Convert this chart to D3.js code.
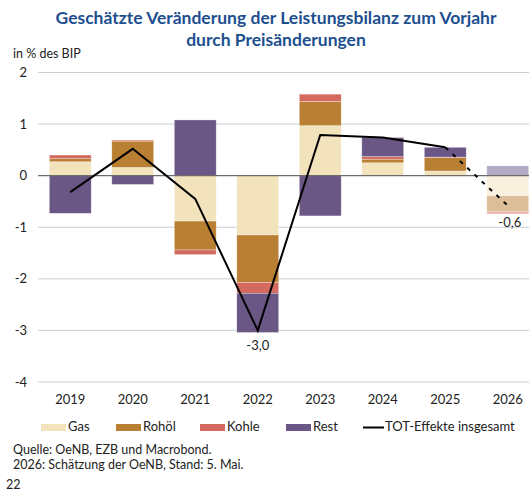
<!DOCTYPE html>
<html lang="de">
<head>
<meta charset="utf-8">
<title>Leistungsbilanz durch Preisänderungen</title>
<script src="https://cdn.jsdelivr.net/npm/d3@7"></script>
<style>
  body { margin: 0; background: #fff; font-family: Lato, "Open Sans", sans-serif; }
  .title { fill: #1d4f8f; font-weight: bold; font-size: 17.5px; }
  .grid line { stroke: #c5d0d9; stroke-width: 1; }
  .tick-label { font-size: 13px; fill: #222; }
  .note { font-size: 12.5px; fill: #222; }
</style>
</head>
<body>
<svg id="chart" width="529" height="491"></svg>
<script>

// data (% of GDP)
var years = ["2019", "2020", "2021", "2022", "2023", "2024", "2025", "2026"];
var keys = ["Gas", "Rohöl", "Kohle", "Rest"];
var gas   = [0.27, 0.16, -0.88, -1.15, 0.97, 0.25, 0.09, -0.39];
var rohoel = [0.06, 0.51, -0.56, -0.92, 0.47, 0.07, 0.26, -0.31];
var kohle = [0.07, 0.02, -0.09, -0.21, 0.14, 0.05, 0.01, -0.04];
var rest  = [-0.73, -0.17, 1.08, -0.76, -0.78, 0.37, 0.19, 0.19];
var totEffekt = [-0.32, 0.52, -0.45, -3.0, 0.79, 0.74, 0.55, -0.58];
var yTicks = [2, 1, 0, -1, -2, -3, -4];

var colors = {"Gas": "#f3e3bd", "Rohöl": "#b97f33", "Kohle": "#d4695f", "Rest": "#6a5786"};
// 2026 is an estimate, drawn in lighter shades
var colorsEst = {"Gas": "#f9f0dd", "Rohöl": "#dcbe98", "Kohle": "#eba8a3", "Rest": "#b4aac6"};

var rows = years.map(function(y, i) {
  return {year: y, "Gas": gas[i], "Rohöl": rohoel[i], "Kohle": kohle[i], "Rest": rest[i]};
});

var svg = d3.select("#chart");

var x = d3.scaleBand()
    .domain(years)
    .range([39, 539])
    .paddingInner(0.33)
    .paddingOuter(0.165);

var y = d3.scaleLinear()
    .domain([-4, 2])
    .range([382, 72.5]);

// title
svg.append("text").attr("class", "title")
    .attr("x", 276).attr("y", 24).attr("text-anchor", "middle")
    .text("Geschätzte Veränderung  der Leistungsbilanz zum Vorjahr");
svg.append("text").attr("class", "title")
    .attr("x", 276).attr("y", 46).attr("text-anchor", "middle")
    .text("durch Preisänderungen");

svg.append("text").attr("class", "note")
    .attr("x", 13).attr("y", 58)
    .text("in % des BIP");

// gridlines
svg.append("g").attr("class", "grid")
  .selectAll("line")
  .data(yTicks.filter(function(t) { return t !== 0; }))
  .enter().append("line")
    .attr("x1", 38).attr("x2", 529)
    .attr("y1", function(d) { return y(d); })
    .attr("y2", function(d) { return y(d); });

svg.append("g")
  .selectAll("text")
  .data(yTicks)
  .enter().append("text")
    .attr("class", "tick-label")
    .attr("x", 27)
    .attr("y", function(d) { return y(d); })
    .attr("dy", "0.35em")
    .attr("text-anchor", "end")
    .text(function(d) { return d; });

// stacked bars
var series = d3.stack()
    .keys(keys)
    .offset(d3.stackOffsetDiverging)(rows);

svg.append("g")
  .selectAll("g")
  .data(series)
  .enter().append("g")
  .selectAll("rect")
  .data(function(s) { return s.map(function(d) { d.key = s.key; return d; }); })
  .enter().append("rect")
    .attr("x", function(d) { return x(d.data.year); })
    .attr("width", x.bandwidth())
    .attr("y", function(d) { return y(Math.max(d[0], d[1])); })
    .attr("height", function(d) { return Math.abs(y(d[0]) - y(d[1])); })
    .attr("fill", function(d) { return d.data.year === "2026" ? colorsEst[d.key] : colors[d.key]; })
    .attr("stroke", "#fff")
    .attr("stroke-opacity", 0.5)
    .attr("stroke-width", 0.6);

// zero line
svg.append("line")
    .attr("x1", 38).attr("x2", 529)
    .attr("y1", y(0)).attr("y2", y(0))
    .attr("stroke", "#6b6b6b").attr("stroke-width", 1.2);

// TOT line
var pts = years.map(function(yr, i) { return [x(yr) + x.bandwidth() / 2, y(totEffekt[i])]; });
var line = d3.line();

svg.append("path")
    .attr("d", line(pts.slice(0, 7)))
    .attr("fill", "none").attr("stroke", "#000").attr("stroke-width", 2);
svg.append("path")
    .attr("d", line(pts.slice(6)))
    .attr("fill", "none").attr("stroke", "#000").attr("stroke-width", 2)
    .attr("stroke-dasharray", "4,6");

svg.append("text").attr("class", "tick-label")
    .attr("x", pts[3][0]).attr("y", pts[3][1] + 20)
    .attr("text-anchor", "middle")
    .text("-3,0");
svg.append("text").attr("class", "tick-label")
    .attr("x", pts[7][0] + 2).attr("y", pts[7][1] + 21)
    .attr("text-anchor", "middle")
    .text("-0,6");

// x labels
svg.append("g")
  .selectAll("text")
  .data(years)
  .enter().append("text")
    .attr("class", "tick-label")
    .attr("x", function(d) { return x(d) + x.bandwidth() / 2; })
    .attr("y", 399)
    .attr("dy", "0.35em")
    .attr("text-anchor", "middle")
    .text(function(d) { return d; });

// legend
var legendItems = [
  {label: "Gas", x: 41, color: colors["Gas"]},
  {label: "Rohöl", x: 116, color: colors["Rohöl"]},
  {label: "Kohle", x: 200, color: colors["Kohle"]},
  {label: "Rest", x: 286, color: colors["Rest"]}
];
var legend = svg.append("g");
legendItems.forEach(function(it) {
  legend.append("rect")
      .attr("x", it.x).attr("y", 424)
      .attr("width", 25).attr("height", 7)
      .attr("fill", it.color);
  legend.append("text").attr("class", "tick-label")
      .attr("x", it.x + 27).attr("y", 431)
      .text(it.label);
});
legend.append("line")
    .attr("x1", 363).attr("x2", 384)
    .attr("y1", 427.5).attr("y2", 427.5)
    .attr("stroke", "#000").attr("stroke-width", 2);
legend.append("text").attr("class", "tick-label")
    .attr("x", 385).attr("y", 431)
    .text("TOT-Effekte insgesamt");

// notes
svg.append("text").attr("class", "note")
    .attr("x", 13).attr("y", 454)
    .text("Quelle: OeNB, EZB und Macrobond.");
svg.append("text").attr("class", "note")
    .attr("x", 13).attr("y", 469)
    .text("2026: Schätzung der OeNB, Stand: 5. Mai.");
svg.append("text").attr("class", "note")
    .attr("x", 6).attr("y", 489)
    .text("22");

</script>
</body>
</html>
